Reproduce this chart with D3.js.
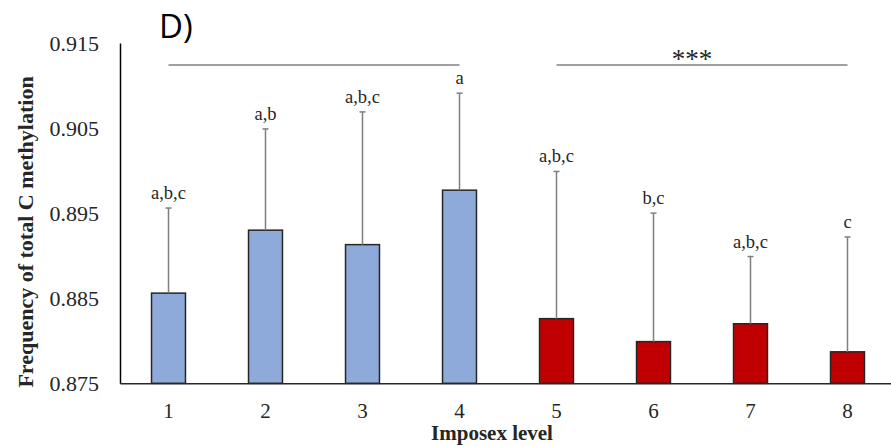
<!DOCTYPE html>
<html>
<head>
<meta charset="utf-8">
<script src="https://cdn.jsdelivr.net/npm/d3@7"></script>
<style>
  body { margin: 0; background: #fff; }
  svg { display: block; }
</style>
</head>
<body>
<svg id="chart" width="891" height="446"></svg>
<script>
// imposex levels and mean frequency of total C methylation
var levels = ["1", "2", "3", "4", "5", "6", "7", "8"];
var means = [0.8856, 0.8930, 0.8913, 0.8977, 0.8826, 0.8799, 0.8820, 0.8787];
var errors = [0.0100, 0.0119, 0.0156, 0.0114, 0.0173, 0.0151, 0.0079, 0.0135];
var letters = ["a,b,c", "a,b", "a,b,c", "a", "a,b,c", "b,c", "a,b,c", "c"];
var yTicks = [0.875, 0.885, 0.895, 0.905, 0.915];

var blue = "#8eaadb",
    red = "#c00000";

var svg = d3.select("#chart");

var x = d3.scaleBand()
  .domain(levels)
  .range([120, 896])
  .paddingInner(0.65)
  .paddingOuter(0.325);

var y = d3.scaleLinear()
  .domain([0.875, 0.915])
  .range([383.3, 43]);

var data = levels.map(function(l, i) {
  return {level: l, mean: means[i], err: errors[i], letter: letters[i], group: i < 4 ? 0 : 1};
});

// bars
svg.selectAll("rect.bar")
  .data(data)
  .enter()
  .append("rect")
  .attr("class", "bar")
  .attr("x", function(d) { return x(d.level); })
  .attr("y", function(d) { return y(d.mean); })
  .attr("width", x.bandwidth())
  .attr("height", function(d) { return y(0.875) - y(d.mean); })
  .attr("fill", function(d) { return d.group === 0 ? blue : red; })
  .attr("stroke", "#262626")
  .attr("stroke-width", 1.5);

// error bars (upper only)
var cx = function(d) { return x(d.level) + x.bandwidth() / 2; };

svg.selectAll("line.err")
  .data(data)
  .enter()
  .append("line")
  .attr("class", "err")
  .attr("x1", cx).attr("x2", cx)
  .attr("y1", function(d) { return y(d.mean); })
  .attr("y2", function(d) { return y(d.mean + d.err); })
  .attr("stroke", "#7f7f7f")
  .attr("stroke-width", 1.5);

svg.selectAll("line.cap")
  .data(data)
  .enter()
  .append("line")
  .attr("class", "cap")
  .attr("x1", function(d) { return cx(d) - 3; })
  .attr("x2", function(d) { return cx(d) + 3; })
  .attr("y1", function(d) { return y(d.mean + d.err); })
  .attr("y2", function(d) { return y(d.mean + d.err); })
  .attr("stroke", "#7f7f7f")
  .attr("stroke-width", 1.5);

// letters
svg.selectAll("text.letter")
  .data(data)
  .enter()
  .append("text")
  .attr("class", "letter")
  .attr("x", cx)
  .attr("y", function(d) { return y(d.mean + d.err) - 9; })
  .attr("text-anchor", "middle")
  .attr("font-family", "Liberation Serif, Times New Roman, serif")
  .attr("font-size", 18.5)
  .attr("fill", "#262626")
  .text(function(d) { return d.letter; });

// y axis
var yAxis = svg.append("g")
  .attr("transform", "translate(120,0)")
  .call(d3.axisLeft(y).tickValues(yTicks).tickSize(0).tickPadding(21).tickFormat(d3.format(".3f")));
yAxis.select(".domain").attr("stroke", "#000").attr("stroke-width", 1.5);
yAxis.selectAll("text")
  .attr("font-family", "Liberation Serif, Times New Roman, serif")
  .attr("font-size", 22)
  .attr("fill", "#262626");

// x axis
var xAxis = svg.append("g")
  .attr("transform", "translate(0," + y(0.875) + ")")
  .call(d3.axisBottom(x).tickSize(0).tickPadding(20));
xAxis.select(".domain").attr("stroke", "#262626").attr("stroke-width", 1.5);
xAxis.selectAll("text")
  .attr("font-family", "Liberation Serif, Times New Roman, serif")
  .attr("font-size", 21)
  .attr("fill", "#262626");

// axis titles
svg.append("text")
  .attr("transform", "translate(33,232) rotate(-90)")
  .attr("text-anchor", "middle")
  .attr("font-family", "Liberation Serif, Times New Roman, serif")
  .attr("font-weight", "bold")
  .attr("font-size", 22)
  .attr("fill", "#262626")
  .text("Frequency of total C methylation");

svg.append("text")
  .attr("x", 492)
  .attr("y", 440)
  .attr("text-anchor", "middle")
  .attr("font-family", "Liberation Serif, Times New Roman, serif")
  .attr("font-weight", "bold")
  .attr("font-size", 21)
  .attr("fill", "#262626")
  .text("Imposex level");

// group brackets
var groups = [["1", "4"], ["5", "8"]];
svg.selectAll("line.bracket")
  .data(groups)
  .enter()
  .append("line")
  .attr("class", "bracket")
  .attr("x1", function(g) { return x(g[0]) + x.bandwidth() / 2; })
  .attr("x2", function(g) { return x(g[1]) + x.bandwidth() / 2; })
  .attr("y1", 65).attr("y2", 65)
  .attr("stroke", "#404040")
  .attr("stroke-width", 1.2);

svg.append("text")
  .attr("x", 692)
  .attr("y", 68)
  .attr("text-anchor", "middle")
  .attr("font-family", "Liberation Serif, Times New Roman, serif")
  .attr("font-size", 27)
  .attr("fill", "#262626")
  .text("***");

// panel label
svg.append("text")
  .attr("x", 159)
  .attr("y", 38)
  .attr("font-family", "Open Sans, sans-serif")
  .attr("font-size", 33)
  .attr("fill", "#000")
  .text("D)");
</script>
</body>
</html>
